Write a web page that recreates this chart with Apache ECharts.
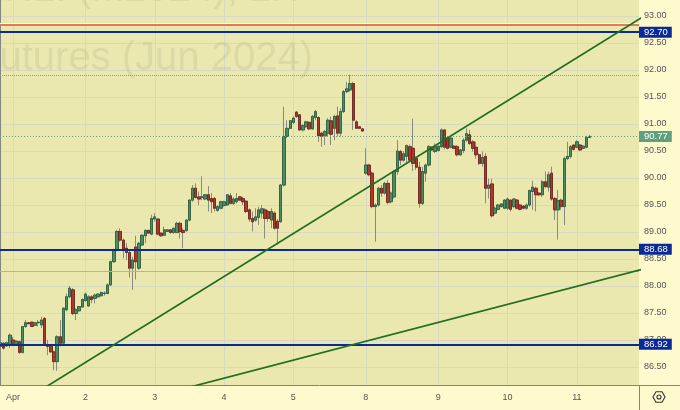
<!DOCTYPE html>
<html><head><meta charset="utf-8">
<script src="https://cdn.jsdelivr.net/npm/echarts@6/dist/echarts.min.js"></script>
<style>html,body{margin:0;padding:0;background:#fffacd}#c{width:680px;height:410px}</style>
</head><body><div id="c"></div><script>
// hourly bars, index 0..187
const open = [
86.88,86.94,86.89,86.91,87.00,86.92,86.97,86.77,87.25,87.32,
87.33,87.27,87.32,87.28,87.40,86.91,86.88,86.78,86.60,87.06,
86.94,87.56,87.80,87.93,87.49,87.54,87.61,87.73,87.63,87.80,
87.77,87.80,87.82,87.86,87.86,88.02,88.45,88.67,89.01,88.85,
88.70,88.62,88.33,88.72,88.33,88.76,88.93,89.03,88.96,89.24,
89.24,88.98,88.94,89.01,89.04,88.99,88.99,89.16,89.03,89.03,
89.22,89.59,89.81,89.65,89.64,89.61,89.69,89.62,89.62,89.40,
89.44,89.49,89.50,89.67,89.53,89.56,89.65,89.62,89.57,89.41,
89.25,89.22,89.27,89.35,89.41,89.38,89.22,89.35,89.20,89.19,
89.87,90.77,90.92,91.03,91.22,91.17,90.89,90.95,91.03,90.91,
91.12,91.12,90.83,90.78,90.83,91.06,90.92,91.15,90.83,91.23,
91.60,91.63,91.75,91.04,90.95,90.91,90.09,90.24,90.09,89.47,
89.50,89.81,89.72,89.90,89.56,89.65,90.12,90.49,90.33,90.40,
90.58,90.55,90.36,90.20,89.53,90.09,90.24,90.57,90.49,90.51,
90.58,90.89,90.74,90.57,90.59,90.58,90.43,90.51,90.70,90.80,
90.67,90.57,90.43,90.27,90.40,89.81,89.89,89.35,89.42,89.47,
89.44,89.44,89.59,89.47,89.59,89.50,89.48,89.44,89.50,89.75,
89.81,89.72,89.69,89.93,89.83,90.09,89.62,89.41,89.59,89.47,
90.36,90.40,90.61,90.57,90.61,90.55,90.57,90.75];
const close = [
86.95,86.85,86.95,87.09,86.92,86.98,86.77,87.25,87.32,87.30,
87.25,87.32,87.33,87.37,86.91,86.88,86.78,86.60,87.06,86.94,
87.59,87.80,87.96,87.49,87.56,87.62,87.75,87.85,87.80,87.75,
87.83,87.85,87.88,87.87,88.02,88.45,88.67,89.01,88.85,88.68,
88.62,88.33,88.48,88.45,88.79,88.94,89.03,88.98,89.25,89.28,
88.96,88.93,89.04,89.04,88.99,89.07,89.16,89.01,88.99,89.22,
89.59,89.81,89.64,89.61,89.65,89.69,89.59,89.56,89.44,89.47,
89.56,89.56,89.69,89.53,89.61,89.62,89.59,89.56,89.38,89.24,
89.19,89.28,89.41,89.43,89.25,89.25,89.38,89.07,89.07,89.87,
90.77,90.92,91.06,91.11,91.14,90.89,90.97,91.04,90.91,91.14,
91.23,90.78,90.77,90.86,91.07,90.81,91.14,90.83,91.23,91.60,
91.65,91.75,91.07,90.92,90.92,90.87,90.24,90.06,89.47,89.50,
89.81,89.72,89.90,89.55,89.72,90.12,90.50,90.33,90.45,90.60,
90.33,90.27,90.20,89.53,90.12,90.24,90.58,90.52,90.58,90.59,
90.89,90.57,90.55,90.74,90.55,90.43,90.52,90.70,90.82,90.64,
90.55,90.43,90.27,90.38,89.81,89.87,89.30,89.44,89.50,89.52,
89.59,89.61,89.42,89.61,89.44,89.42,89.44,89.50,89.77,89.83,
89.69,89.69,89.93,89.84,90.06,89.61,89.41,89.58,89.47,90.36,
90.40,90.58,90.53,90.67,90.52,90.59,90.75,90.77];
const low = [
86.85,86.82,86.87,86.85,86.90,86.90,86.74,86.75,87.22,87.29,
87.24,87.26,87.25,87.22,86.89,86.72,86.77,86.44,86.43,86.88,
86.92,87.53,87.77,87.46,87.37,87.53,87.60,87.71,87.62,87.68,
87.68,87.79,87.80,87.82,87.85,88.00,88.43,88.64,88.82,88.51,
88.48,88.16,87.93,88.12,88.30,88.74,88.79,88.96,88.94,89.19,
88.94,88.91,88.93,89.00,88.97,88.97,88.98,88.88,88.70,89.00,
89.20,89.56,89.62,89.50,89.59,89.59,89.38,89.35,89.38,89.38,
89.42,89.47,89.48,89.51,89.50,89.53,89.58,89.50,89.35,89.19,
89.01,89.19,89.13,89.25,88.88,89.19,89.07,89.04,88.76,89.17,
89.84,90.74,90.90,91.00,91.11,90.87,90.86,90.93,90.89,90.89,
91.07,90.67,90.58,90.61,90.77,90.61,90.70,90.77,90.77,91.20,
91.57,91.60,90.89,90.91,90.91,90.86,90.06,90.03,89.44,88.82,
89.47,89.65,89.69,89.51,89.53,89.62,90.06,90.24,90.30,90.28,
90.30,90.13,90.15,89.45,89.50,89.93,90.21,90.50,90.46,90.49,
90.55,90.53,90.53,90.55,90.53,90.40,90.41,90.46,90.67,90.61,
90.49,90.36,90.24,90.21,89.53,89.62,89.27,89.32,89.40,89.45,
89.42,89.41,89.38,89.45,89.42,89.40,89.42,89.41,89.47,89.41,
89.38,89.67,89.65,89.81,89.75,89.58,89.22,88.86,89.41,89.13,
90.33,90.36,90.51,90.55,90.50,90.53,90.55,90.74];
const high = [
86.97,86.96,86.97,87.12,87.06,87.00,86.99,87.26,87.37,87.33,
87.34,87.33,87.37,87.43,87.42,87.00,86.90,86.80,87.09,87.37,
87.60,87.86,88.00,87.96,87.59,87.63,87.77,87.88,87.83,87.83,
87.86,87.87,87.90,87.90,88.05,88.47,88.69,89.04,89.07,88.88,
88.79,88.67,88.54,88.93,88.82,88.96,89.05,89.04,89.32,89.35,
89.25,88.99,89.10,89.05,89.05,89.08,89.19,89.19,89.07,89.24,
89.61,89.87,89.90,89.75,90.03,89.70,89.85,89.72,89.65,89.50,
89.58,89.58,89.70,89.72,89.65,89.72,89.67,89.65,89.59,89.44,
89.38,89.44,89.47,89.50,89.44,89.41,89.44,89.38,89.24,89.89,
91.32,91.07,91.07,91.14,91.24,91.18,91.00,91.06,91.05,91.17,
91.26,91.14,90.86,90.89,91.11,91.14,91.17,91.32,91.29,91.63,
91.78,91.91,91.78,91.07,90.96,90.92,90.55,90.26,90.12,89.53,
89.84,89.87,89.93,89.96,89.75,90.15,90.70,90.52,90.50,90.62,
90.62,91.10,90.40,90.30,90.21,90.27,90.61,90.58,90.64,90.61,
90.92,90.90,90.76,90.75,90.61,90.61,90.53,90.74,90.92,90.89,
90.70,90.67,90.46,90.49,90.46,89.99,89.99,89.47,89.52,89.53,
89.61,89.64,89.61,89.62,89.61,89.52,89.50,89.53,89.78,89.95,
89.84,89.73,89.96,90.12,90.12,90.21,89.65,89.78,89.62,90.40,
90.67,90.61,90.63,90.70,90.63,90.61,90.78,90.80];

// x-axis: first bar index of each day, and its label
const dayStart  = [4, 27, 49, 71, 93, 116, 139, 161, 183];
const dayLabels = ['Apr', '2', '3', '4', '5', '8', '9', '10', '11'];
// y-axis tick labels
const yTicks = [86.5, 87, 87.5, 88, 88.5, 89, 89.5, 90, 90.5, 91, 91.5, 92, 92.5, 93];
// drawn levels
const blueLevels = [92.70, 88.68, 86.92];
const redLevel = 92.83;
const greenThinLevel = 88.28;
const highLevel = 91.91;
const lastPrice = 90.77;
// trend lines: [bar index, price] anchors
const trendUpper = [[10, 85.97], [205, 93.02]];
const trendLower = [[55, 86.05], [205, 88.33]];

const wickData = open.map((o, i) => [i, o, close[i], low[i], high[i]]);
const bodyData = open.map((o, i) => [i, o, close[i], Math.min(o, close[i]), Math.max(o, close[i])]);

const FONT = 'Liberation Sans';
const tag = (bg) => ({
  show: true, position: 'end', distance: 0,
  formatter: p => Number(p.value).toFixed(2),
  color: '#fff', backgroundColor: bg, fontSize: 9.5, fontFamily: FONT,
  padding: [1, 4, 0, 5], lineHeight: 10, verticalAlign: 'middle'
});
const noLabel = { show: false };

const markData = [];
markData.push({ yAxis: 92.87, lineStyle: { color: '#fffde6', width: 1, type: 'solid' }, label: noLabel });
markData.push({ yAxis: redLevel, lineStyle: { color: '#e07a5c', width: 2, type: 'solid' }, label: noLabel });
markData.push({ yAxis: highLevel, lineStyle: { color: '#9a9a84', width: 1, type: [1, 1] }, label: noLabel });
markData.push({ yAxis: greenThinLevel, lineStyle: { color: '#78d888', width: 1.2, type: 'solid' }, label: noLabel });
markData.push({ yAxis: lastPrice, lineStyle: { color: '#5fa17f', width: 1, type: [1, 2] }, label: tag('#5fa17f') });
blueLevels.forEach(v => markData.push({ yAxis: v, lineStyle: { color: '#0a2a96', width: 2, type: 'solid' }, label: tag('#0a2a96') }));

const chart = echarts.init(document.getElementById('c'), null, { renderer: 'canvas' });
chart.setOption({
  animation: false,
  backgroundColor: '#fffacd',
  grid: { left: 0, right: 41, top: 0, bottom: 25, show: true, backgroundColor: '#ebe8af', borderWidth: 0 },
  xAxis: {
    type: 'value', min: -0.127, max: 202.73,
    axisLine: { show: true, onZero: false, lineStyle: { color: '#85857d', width: 1 } },
    axisTick: { show: false, customValues: dayStart },
    axisLabel: { customValues: dayStart, formatter: v => dayLabels[dayStart.indexOf(v)], color: '#555', fontSize: 9, fontFamily: FONT, margin: 8 },
    splitLine: { show: true, lineStyle: { color: '#d9d8c3', width: 1 } }
  },
  yAxis: {
    type: 'value', position: 'right', min: 86.1667, max: 93.2963, scale: true,
    axisLine: { show: true, lineStyle: { color: '#85857d', width: 1 } },
    axisTick: { show: false, customValues: yTicks },
    axisLabel: { customValues: yTicks, formatter: v => v.toFixed(2), color: '#555', fontSize: 9, fontFamily: FONT, margin: 5 },
    splitLine: { show: true, lineStyle: { color: '#d9d8c3', width: 1 } }
  },
  graphic: [
    { type: 'text', z: 1, silent: true, style: { text: 'Brent Crude Oil Futures (Jun 2024)', x: 313, y: 59, textAlign: 'right', textVerticalAlign: 'middle', font: '40px "Liberation Sans"', fill: 'rgba(150,150,115,0.18)' } },
    { type: 'text', z: 1, silent: true, style: { text: 'BRN1! (M2024), 1H', x: 300, y: -10, textAlign: 'right', textVerticalAlign: 'middle', font: '40px "Liberation Sans"', fill: 'rgba(150,150,115,0.18)' } },
    { type: 'line', z: 5, silent: true, shape: { x1: 639, y1: 385.5, x2: 680, y2: 385.5 }, style: { stroke: '#85857d', lineWidth: 1 } },
    { type: 'line', z: 5, silent: true, shape: { x1: 639.5, y1: 385, x2: 639.5, y2: 410 }, style: { stroke: '#85857d', lineWidth: 1 } },
    { type: 'polygon', z: 5, silent: true, shape: { points: [[653, 397], [656, 391.8], [662, 391.8], [665, 397], [662, 402.2], [656, 402.2]] }, style: { fill: 'none', stroke: '#333', lineWidth: 1.1 } },
    { type: 'circle', z: 5, silent: true, shape: { cx: 659, cy: 397, r: 2 }, style: { fill: 'none', stroke: '#333', lineWidth: 1.1 } }
  ],
  series: [
    {
      type: 'candlestick', data: wickData, encode: { x: 0, y: [1, 2, 3, 4] }, barWidth: 2.9, z: 2, silent: true,
      itemStyle: { color: 'transparent', color0: 'transparent', borderColor: '#8a8a80', borderColor0: '#8a8a80', borderWidth: 1 }
    },
    {
      type: 'candlestick', data: bodyData, encode: { x: 0, y: [1, 2, 3, 4] }, barWidth: 2.9, z: 3, silent: true,
      itemStyle: { color: '#47905f', color0: '#b0362c', borderColor: '#2b5a3b', borderColor0: '#6a2218', borderWidth: 0.8 }
    },
    {
      type: 'line', data: trendUpper, symbol: 'none', z: 5, silent: true, clip: true,
      lineStyle: { color: '#1f6e22', width: 1.7 },
      markLine: { silent: true, symbol: 'none', animation: false, data: markData }
    },
    { type: 'line', data: trendLower, symbol: 'none', z: 5, silent: true, clip: true, lineStyle: { color: '#1f6e22', width: 1.7 } }
  ]
});
</script></body></html>
